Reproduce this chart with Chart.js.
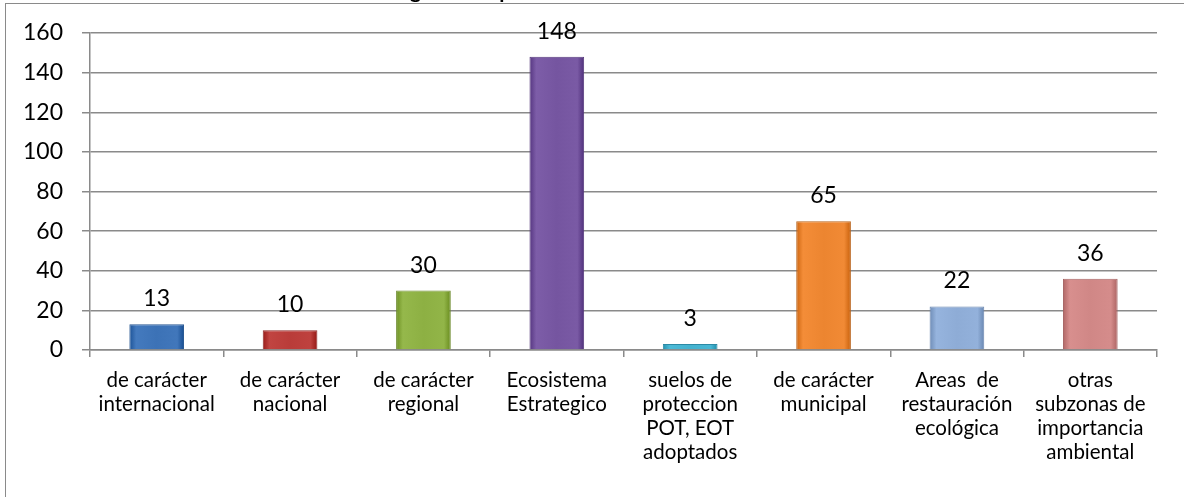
<!DOCTYPE html>
<html>
<head>
<meta charset="utf-8">
<script src="https://cdn.jsdelivr.net/npm/chart.js@4"></script>
<style>
  html, body { margin: 0; padding: 0; background: #fff; overflow: hidden; }
  #wrap { position: relative; width: 1184px; height: 497px; }
  #frame { position: absolute; left: 5px; top: 3px; right: 0; bottom: 0;
           border-left: 1.5px solid #8a8a8a; border-top: 1.5px solid #8a8a8a; }
  canvas { position: absolute; left: 0; top: 0; }
</style>
</head>
<body>
<div id="wrap">
  <div id="frame"></div>
  <canvas id="myChart" width="1184" height="497"></canvas>
</div>
<script>
const categories = [
  ["de carácter", "internacional"],
  ["de carácter", "nacional"],
  ["de carácter", "regional"],
  ["Ecosistema", "Estrategico"],
  ["suelos de", "proteccion", "POT, EOT", "adoptados"],
  ["de carácter", "municipal"],
  ["Areas  de", "restauración", "ecológica"],
  ["otras", "subzonas de", "importancia", "ambiental"],
];
const values = [13, 10, 30, 148, 3, 65, 22, 36];
const barColors = ["#3c72b6", "#b93c39", "#8db043", "#7555a0", "#44b2cf", "#ec8530", "#8eacd6", "#d08786"];
const edgeColors = ["#2b5a93", "#8e2a28", "#6c8a2c", "#56397c", "#2c8aa5", "#b9631c", "#6a86b0", "#a66464"];
const titleText = "Categorías de protección";

function shade(hex, amt) {
  const n = parseInt(hex.slice(1), 16);
  let r = (n >> 16) & 255, g = (n >> 8) & 255, b = n & 255;
  r = Math.max(0, Math.min(255, Math.round(r + amt)));
  g = Math.max(0, Math.min(255, Math.round(g + amt)));
  b = Math.max(0, Math.min(255, Math.round(b + amt)));
  return `rgb(${r}, ${g}, ${b})`;
}

// values above each bar
const valueLabels = {
  id: "valueLabels",
  afterDatasetsDraw(chart) {
    const ctx = chart.ctx;
    const meta = chart.getDatasetMeta(0);
    ctx.save();
    ctx.font = "23px Lato";
    ctx.fillStyle = "#000";
    ctx.textAlign = "center";
    ctx.textBaseline = "alphabetic";
    meta.data.forEach((bar, i) => {
      ctx.fillText(String(values[i]), bar.x, bar.y - 18);
    });
    ctx.restore();
  },
};

// title mostly cut off by the top edge of the picture
const clippedTitle = {
  id: "clippedTitle",
  afterDraw(chart) {
    const ctx = chart.ctx;
    ctx.save();
    ctx.font = "bold 21px Lato";
    ctx.fillStyle = "#000";
    ctx.textBaseline = "alphabetic";
    const x = 410 - ctx.measureText("Cate").width;
    ctx.fillText(titleText, x, -2);
    ctx.restore();
  },
};

const ctx = document.getElementById("myChart").getContext("2d");

new Chart(ctx, {
  type: "bar",
  data: {
    labels: categories,
    datasets: [
      {
        data: values,
        backgroundColor: function (context) {
          const chart = context.chart;
          const i = context.dataIndex;
          const base = barColors[i];
          if (!chart.chartArea || !chart.scales.x) return base;
          const cx = chart.scales.x.getPixelForValue(i);
          const g = chart.ctx.createLinearGradient(cx - 27, 0, cx + 27, 0);
          g.addColorStop(0, shade(base, -30));
          g.addColorStop(0.12, shade(base, 8));
          g.addColorStop(0.5, base);
          g.addColorStop(0.88, shade(base, 5));
          g.addColorStop(1, shade(base, -35));
          return g;
        },
        borderColor: edgeColors,
        borderWidth: 1,
        categoryPercentage: 0.41,
        barPercentage: 1,
      },
    ],
  },
  options: {
    responsive: false,
    animation: false,
    layout: {
      padding: { top: 33, right: 27, bottom: 0, left: 0 },
    },
    plugins: {
      legend: { display: false },
      tooltip: { enabled: false },
    },
    scales: {
      x: {
        afterFit: (scale) => { scale.height = 147; },
        grid: {
          offset: true,
          drawOnChartArea: false,
          drawTicks: true,
          tickLength: 7,
          color: "#8a8a8a",
          lineWidth: 1.5,
        },
        border: { display: true, color: "#8a8a8a", width: 1.5 },
        ticks: {
          color: "#000",
          maxRotation: 0,
          minRotation: 0,
          padding: 11,
          font: { family: "Lato", size: 20.5, lineHeight: 1.18 },
        },
      },
      y: {
        min: 0,
        max: 160,
        afterFit: (scale) => { scale.width = 90; },
        grid: {
          color: "#8a8a8a",
          lineWidth: 1.5,
          drawTicks: true,
          tickLength: 8,
        },
        border: { display: true, color: "#8a8a8a", width: 1.5 },
        ticks: {
          stepSize: 20,
          color: "#000",
          padding: 19,
          font: { family: "Lato", size: 23 },
        },
      },
    },
  },
  plugins: [valueLabels, clippedTitle],
});
</script>
</body>
</html>
